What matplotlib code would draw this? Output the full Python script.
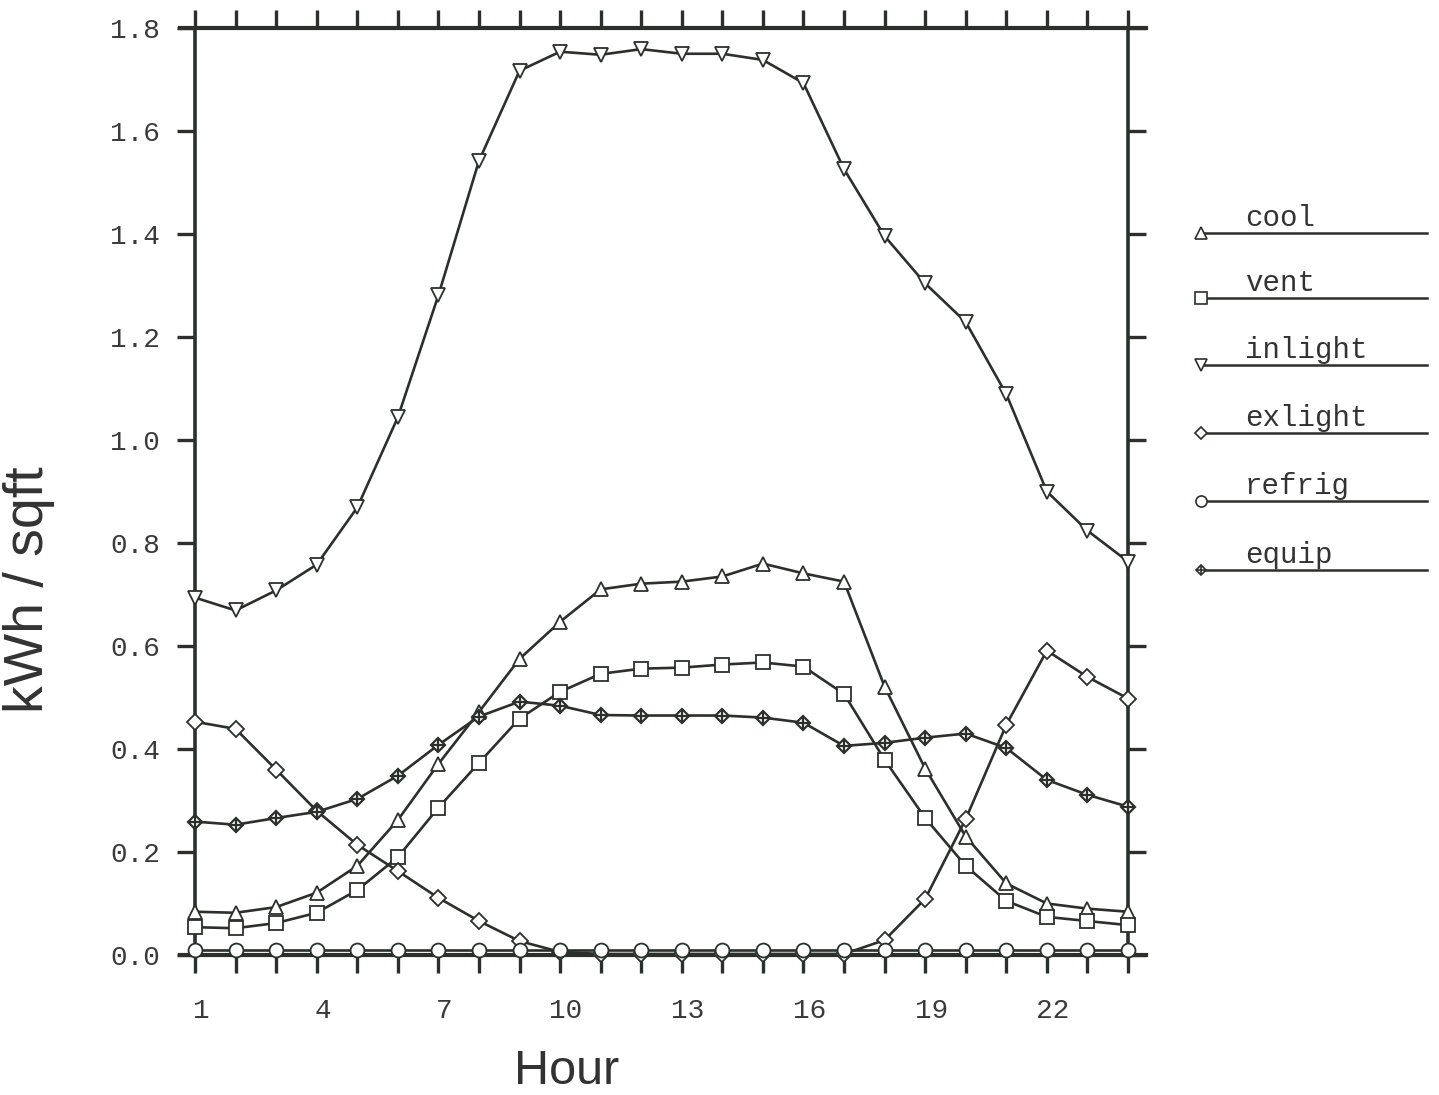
import numpy as np
import matplotlib
matplotlib.use("Agg")
import matplotlib.pyplot as plt
import matplotlib.transforms as mtransforms
from matplotlib.lines import Line2D

hours = list(range(1, 25))

cool = [0.084, 0.082, 0.093, 0.121, 0.173, 0.262, 0.371, 0.472, 0.575, 0.647,
        0.710, 0.721, 0.725, 0.735, 0.760, 0.741, 0.725, 0.521, 0.362, 0.230,
        0.139, 0.100, 0.090, 0.084]
vent = [0.054, 0.052, 0.062, 0.082, 0.126, 0.190, 0.286, 0.373, 0.459, 0.511,
        0.546, 0.556, 0.558, 0.564, 0.568, 0.560, 0.507, 0.379, 0.266, 0.173,
        0.105, 0.074, 0.066, 0.058]
inlight = [0.694, 0.669, 0.708, 0.758, 0.869, 1.044, 1.281, 1.542, 1.717, 1.754,
           1.748, 1.759, 1.750, 1.750, 1.738, 1.693, 1.526, 1.396, 1.304, 1.229,
           1.089, 0.900, 0.824, 0.764]
exlight = [0.453, 0.439, 0.360, 0.280, 0.214, 0.163, 0.111, 0.066, 0.027, 0.006,
           0.002, 0.002, 0.002, 0.002, 0.002, 0.002, 0.002, 0.029, 0.109, 0.264,
           0.447, 0.591, 0.540, 0.498]
refrig = [0.010] * 24
equip = [0.259, 0.253, 0.266, 0.278, 0.303, 0.348, 0.408, 0.463, 0.492, 0.484,
         0.466, 0.465, 0.465, 0.465, 0.461, 0.451, 0.406, 0.412, 0.422, 0.430,
         0.402, 0.340, 0.311, 0.288]

labels = ["cool", "vent", "inlight", "exlight", "refrig", "equip"]
yticks = [0.0, 0.2, 0.4, 0.6, 0.8, 1.0, 1.2, 1.4, 1.6, 1.8]
xlabel_hours = [1, 4, 7, 10, 13, 16, 19, 22]

ink = "#2b302c"
W, H = 1439, 1095
fig = plt.figure(figsize=(W / 100, H / 100), dpi=100)
ax = fig.add_axes([195 / W, 1 - 955 / H, 933 / W, 927 / H])

lw = 1.9
series = [
    (cool, dict(marker="^", ms=10)),
    (vent, dict(marker="s", ms=10)),
    (inlight, dict(marker="v", ms=10)),
    (exlight, dict(marker="D", ms=8)),
    (refrig, dict(marker="o", ms=10)),
]
for vals, st in series:
    ax.plot(hours, vals, color=ink, lw=lw, marker=st["marker"], ms=st["ms"],
            mfc="white", mec=ink, mew=1.3, clip_on=False, zorder=3)

ax.plot(hours, equip, color=ink, lw=lw, marker="D", ms=7, mfc="white",
        mec=ink, mew=1.6, clip_on=False, zorder=3)
ax.plot(hours, equip, ls="none", marker="+", ms=8, mec=ink, mew=1.6,
        clip_on=False, zorder=4)

ax.set_xlim(1, 24)
ax.set_ylim(0, 1.8)

ax.set_xticks(hours)
ax.set_xticklabels([str(h) if h in xlabel_hours else "" for h in hours])
ax.set_yticks(yticks)
ax.set_yticklabels(["%.1f" % v for v in yticks])

ax.tick_params(axis="both", direction="out", length=13, width=2.4, color=ink,
               top=True, right=True, labelcolor="#3a3a3a", labelsize=20)
ax.tick_params(axis="x", pad=18)
ax.tick_params(axis="y", pad=12)
for lab in ax.get_xticklabels() + ax.get_yticklabels():
    lab.set_family(["Liberation Mono", "DejaVu Sans Mono"])
offset = mtransforms.ScaledTranslation(6 / 100, 0, fig.dpi_scale_trans)
for lab in ax.get_xticklabels():
    lab.set_transform(lab.get_transform() + offset)

for s in ["left", "right"]:
    ax.spines[s].set_linewidth(2.6)
    ax.spines[s].set_color(ink)
for s in ["top", "bottom"]:
    ax.spines[s].set_visible(False)
ext = 15 / 933
for yy in [0, 1]:
    ax.plot([-ext, 1 + ext * 1.2], [yy, yy], transform=ax.transAxes,
            color=ink, lw=3.0, clip_on=False, zorder=2)

ax.set_xlabel("Hour", fontsize=35, color="#333333",
              family=["Liberation Sans", "DejaVu Sans"])
ax.set_ylabel("kWh / sqft", fontsize=40, color="#333333",
              family=["Liberation Sans", "DejaVu Sans"])
ax.xaxis.set_label_coords((567 - 195) / 933, (955 - 1049) / 927)
ax.yaxis.set_label_coords((55 - 195) / 933, (955 - 590) / 927)

# legend drawn by hand, line with marker on the left and name above
leg_rows = [233, 298, 365, 433, 501, 570]
leg_markers = [("^", 8), ("s", 8), ("v", 8), ("D", 6), ("o", 8), ("D", 5)]
for name, ypx, (mk, ms) in zip(labels, leg_rows, leg_markers):
    y = 1 - ypx / H
    fig.add_artist(Line2D([1201 / W, 1427 / W], [y, y], color=ink, lw=1.8))
    fig.add_artist(Line2D([1201 / W], [y], marker=mk, ms=ms, mfc="white",
                          mec=ink, mew=1.2, ls="none"))
    if name == "equip":
        fig.add_artist(Line2D([1201 / W], [y], marker="+", ms=6, mec=ink,
                              mew=1.2, ls="none"))
    fig.text(1245 / W, y + 1 / H, name, fontsize=21, color="#333333",
             family=["Liberation Mono", "DejaVu Sans Mono"], va="bottom")

fig.savefig("out.png", dpi=100, facecolor="white")
